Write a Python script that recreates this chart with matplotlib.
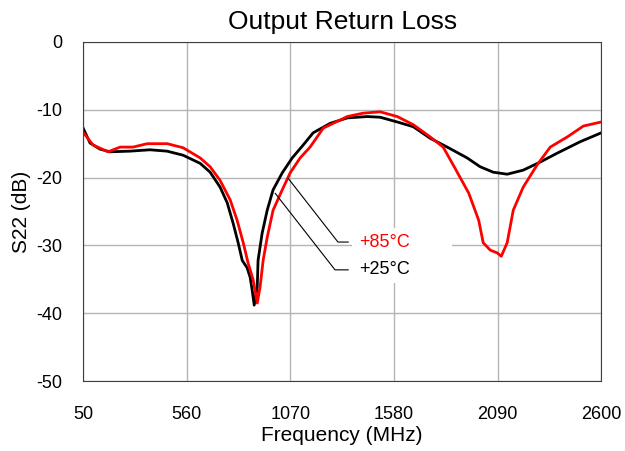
import matplotlib.pyplot as plt
from matplotlib.patches import Rectangle

plt.rcParams['font.family'] = ['Liberation Sans', 'DejaVu Sans']
plt.rcParams['axes.unicode_minus'] = False

# S22 vs frequency, +25°C
freq_25 = [50, 84, 133, 182, 280, 379, 463, 542, 626, 675, 724, 759, 788, 813, 833,
           857, 872, 882, 892, 907, 911, 931, 956, 985, 1030, 1079, 1133, 1182, 1266,
           1350, 1448, 1512, 1596, 1675, 1758, 1842, 1940, 2004, 2068, 2137, 2216,
           2300, 2383, 2497, 2600]
s22_25 = [-12.7, -14.9, -15.8, -16.2, -16.1, -15.9, -16.1, -16.7, -17.9, -19.2, -21.4,
          -23.7, -26.7, -29.6, -32.2, -33.3, -34.7, -36.6, -38.8, -36.1, -32.2, -28.2,
          -24.8, -21.8, -19.3, -17.1, -15.2, -13.4, -12.0, -11.2, -11.0, -11.1, -11.8,
          -12.5, -14.2, -15.5, -17.1, -18.4, -19.2, -19.5, -18.9, -17.7, -16.4, -14.7,
          -13.4]

# S22 vs frequency, +85°C
freq_85 = [50, 99, 173, 232, 296, 365, 464, 542, 626, 675, 724, 774, 808, 838, 862,
           887, 907, 921, 936, 956, 985, 1030, 1069, 1118, 1167, 1232, 1350, 1428, 1512,
           1596, 1675, 1758, 1822, 1880, 1948, 1997, 2019, 2054, 2088, 2108, 2137, 2167,
           2216, 2285, 2349, 2433, 2512, 2600]
s22_85 = [-13.3, -15.2, -16.2, -15.5, -15.5, -15.0, -15.0, -15.6, -17.1, -18.4, -20.4,
          -23.3, -26.3, -29.6, -32.6, -35.1, -38.5, -36.1, -32.2, -28.8, -24.8, -21.8,
          -19.3, -17.1, -15.5, -12.7, -11.0, -10.5, -10.3, -11.0, -12.2, -14.0, -15.5,
          -18.6, -22.3, -26.3, -29.6, -30.7, -31.1, -31.6, -29.6, -24.8, -21.4, -18.1,
          -15.5, -14.0, -12.4, -11.8]

x_ticks = [50, 560, 1070, 1580, 2090, 2600]
y_ticks = [0, -10, -20, -30, -40, -50]

fig, ax = plt.subplots(figsize=(6.25, 4.51), dpi=100)
fig.subplots_adjust(left=0.133, right=0.962, top=0.907, bottom=0.155)

ax.plot(freq_25, s22_25, color='black', lw=2, solid_joinstyle='round')
ax.plot(freq_85, s22_85, color='#ff0000', lw=2, solid_joinstyle='round')

ax.set_xlim(50, 2600)
ax.set_ylim(-50, 0)
ax.set_xticks(x_ticks)
ax.set_yticks(y_ticks)
ax.grid(True, color='#b4b4b4', lw=1)
ax.tick_params(length=0, labelsize=13)
ax.tick_params(axis='x', pad=18)
ax.tick_params(axis='y', pad=15)
for sp in ax.spines.values():
    sp.set_color('#404040')

ax.set_title('Output Return Loss', fontsize=19, pad=9)
ax.set_xlabel('Frequency (MHz)', fontsize=15, labelpad=2)
ax.set_ylabel('S22 (dB)', fontsize=15, labelpad=4)

# white panel behind the callout text
ax.add_patch(Rectangle((1375, -35.5), 492, 8.1, fc='white', ec='none', zorder=1.8))

# callout labels with leader lines
leader = dict(arrowstyle='-', color='black', lw=0.8,
              connectionstyle='angle,angleA=0,angleB=-52,rad=0',
              shrinkA=6, shrinkB=0)
ax.annotate('+85°C', xy=(1059, -20.1), xytext=(1410, -29.5),
            color='#ff0000', fontsize=13, va='center', arrowprops=leader)
ax.annotate('+25°C', xy=(995, -22.3), xytext=(1410, -33.6),
            color='black', fontsize=13, va='center', arrowprops=leader)

plt.savefig('out.png')
